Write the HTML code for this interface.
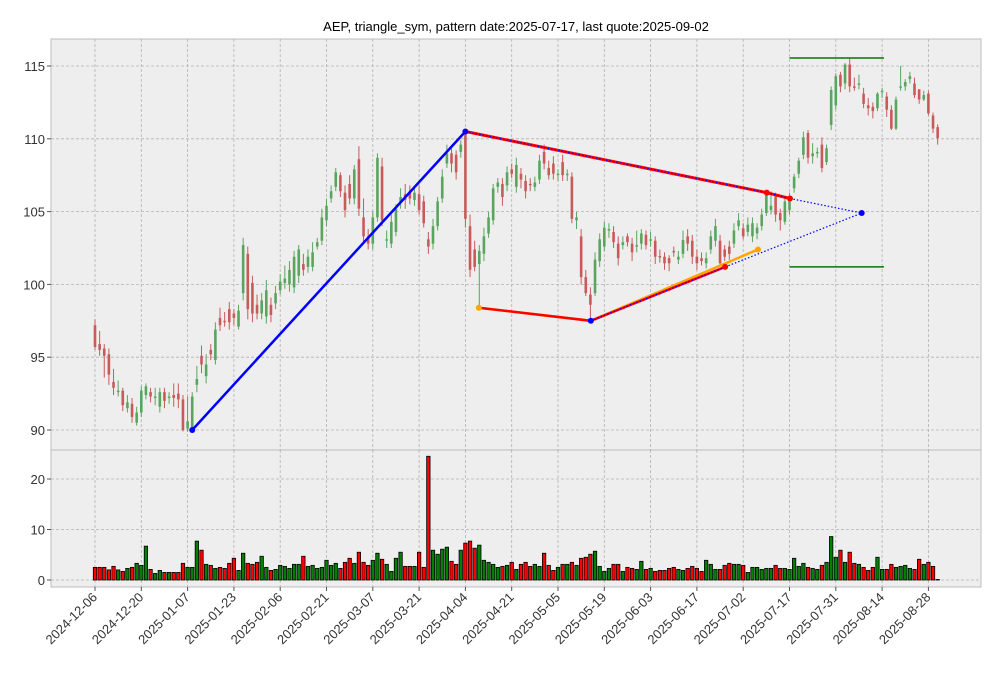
<!DOCTYPE html>
<html><head><meta charset="utf-8"><style>
body{margin:0;background:#fff}
svg text{font-family:"Liberation Sans","DejaVu Sans",sans-serif;fill:#333}
</style></head><body>
<svg id="c" width="1001" height="678" xmlns="http://www.w3.org/2000/svg">
<rect width="1001" height="678" fill="#fff"/>
<text x="516" y="31" text-anchor="middle" font-size="13" style="fill:#000">AEP, triangle_sym, pattern date:2025-07-17, last quote:2025-09-02</text>
<rect x="51" y="39" width="930" height="411" fill="#eeeeee" stroke="#bcbcbc"/>
<rect x="51" y="450" width="930" height="137" fill="#eeeeee" stroke="#bcbcbc"/>
<g id="grid"></g><g id="vol"></g><g id="cand"></g><g id="pat"></g><g id="axes"></g>
</svg>
<script>
const dateLabels=["2024-12-06","2024-12-20","2025-01-07","2025-01-23","2025-02-06","2025-02-21","2025-03-07","2025-03-21","2025-04-04","2025-04-21","2025-05-05","2025-05-19","2025-06-03","2025-06-17","2025-07-02","2025-07-17","2025-07-31","2025-08-14","2025-08-28"];
const tickIdx=[0,10,20,30,40,50,60,70,80,90,100,110,120,130,140,150,160,170,180];
const priceTicks=[90,95,100,105,110,115];
const volTicks=[0,10,20];
const openP=[97.2,95.9,95.6,95.2,93.3,92.6,92.7,91.5,91.8,90.5,91.2,92.4,92.6,92.2,91.6,92.6,92.2,92.4,92.5,92.1,90.1,90.2,93.1,95.1,93.7,95.5,94.8,97.7,97.5,98.3,98.0,97.1,99.4,102.1,100.1,98.6,98.0,97.8,98.6,98.7,99.6,100.1,100.0,99.8,100.6,101.4,101.2,101.2,102.6,103.0,104.4,105.9,106.7,107.5,106.3,106.9,105.9,108.6,104.6,103.3,102.8,104.6,108.1,103.0,102.8,103.6,105.6,106.2,106.4,105.8,106.2,105.7,103.1,102.8,104.0,105.9,108.3,109.0,108.9,109.1,110.4,104.0,102.4,101.4,102.1,103.5,104.4,106.7,106.9,106.8,107.9,106.7,107.6,107.1,106.9,106.7,107.2,109.1,108.0,108.3,107.5,108.4,107.5,107.4,104.4,103.3,100.5,99.3,99.4,101.6,102.6,103.7,103.6,102.8,102.7,103.3,102.8,102.6,102.8,103.4,103.0,103.0,101.95,101.9,101.8,102.3,101.7,102.1,103.3,103.0,101.9,101.8,101.45,102.4,103.0,103.0,102.4,102.6,102.8,104.0,103.85,103.6,103.3,103.5,104.0,104.9,105.1,106.05,104.9,104.3,105.1,106.6,107.6,108.9,110.4,108.8,109.0,109.6,108.4,110.95,112.3,114.4,113.8,115.1,113.6,113.7,113.1,112.3,112.2,112.1,113.2,112.9,112.0,110.7,113.5,113.6,114.1,113.8,113.4,112.7,113.1,111.6,110.8];
const closeP=[95.7,95.5,95.1,93.8,92.9,92.7,91.7,91.9,90.9,91.2,92.7,93.0,92.3,92.3,92.6,92.0,92.3,92.2,92.1,90.0,90.6,92.3,93.5,94.5,94.5,95.2,96.9,97.2,97.4,97.4,97.7,98.2,102.7,98.3,98.0,98.0,98.9,99.6,97.9,99.4,100.2,100.4,101.0,101.9,102.4,101.0,101.9,102.2,102.9,104.6,105.4,106.4,107.7,106.4,105.1,105.9,107.9,105.2,103.3,102.8,104.6,108.7,104.4,103.1,104.3,105.2,106.0,105.8,105.9,106.3,105.1,104.2,102.6,104.0,105.7,107.4,109.0,108.3,107.7,109.6,104.5,101.0,101.2,102.3,103.3,104.6,106.6,107.0,106.0,107.7,107.6,108.2,107.2,106.4,106.8,107.0,108.5,108.3,107.5,107.6,107.6,107.5,107.6,104.5,104.6,100.5,99.4,98.6,101.7,103.1,103.9,103.8,102.9,101.8,102.9,102.9,102.2,102.7,103.5,102.7,103.1,101.9,101.85,101.45,101.45,102.2,101.9,103.05,102.8,101.9,101.45,101.6,101.8,103.3,104.0,101.45,101.9,102.1,103.7,104.4,103.3,104.1,104.2,103.9,104.8,106.3,105.4,104.8,104.4,105.7,106.0,107.4,108.5,110.1,108.7,109.0,109.1,108.0,109.35,113.35,114.3,113.6,115.1,113.6,113.5,113.8,112.4,112.1,111.9,113.1,113.3,112.0,110.7,112.7,113.6,113.9,114.3,113.0,112.7,113.0,111.75,110.7,110.05];
const highP=[97.6,96.8,95.9,95.6,94.2,93.4,92.9,92.4,92.2,91.6,93.0,93.2,92.9,92.9,92.9,92.9,92.6,93.2,93.2,92.4,92.3,92.6,94.4,95.8,95.2,95.9,97.4,98.4,98.1,98.8,98.3,98.6,103.2,102.6,100.6,99.3,99.4,100.3,99.1,99.9,100.7,101.3,101.6,102.3,102.7,102.1,102.4,102.9,103.2,105.2,105.9,106.8,108.0,107.7,106.8,107.5,108.2,109.5,105.9,103.8,105.0,109.0,108.7,103.7,104.8,105.5,106.6,106.9,106.8,106.7,106.8,106.1,103.6,104.5,106.0,107.9,109.6,109.5,109.2,109.9,110.5,104.8,103.0,102.7,103.9,105.0,106.9,107.3,107.3,108.1,108.3,108.7,108.0,107.5,107.3,107.4,108.9,109.6,108.5,108.8,107.9,108.9,107.9,107.7,105.0,103.8,101.0,99.8,102.2,103.5,104.3,104.2,104.0,103.3,103.3,103.5,103.2,103.7,103.8,103.7,103.6,103.3,102.4,102.2,102.0,102.6,102.3,103.7,103.8,103.4,102.4,102.2,102.2,103.7,104.5,103.4,102.7,103.0,104.2,104.9,104.2,104.6,104.6,104.2,105.2,106.5,106.4,106.3,105.2,106.0,106.3,107.6,108.7,110.5,110.6,109.7,109.4,110.1,109.6,113.6,114.5,114.6,115.2,115.5,114.2,114.4,113.5,112.8,112.5,113.2,113.5,113.2,112.3,112.9,115.0,114.1,114.6,114.2,113.3,113.3,113.3,111.8,111.0];
const lowP=[95.5,95.1,93.6,93.1,92.4,92.3,91.3,91.2,90.5,90.3,90.9,92.1,91.9,91.7,91.2,91.5,91.8,91.6,91.5,89.9,89.9,90.0,92.6,93.9,93.2,94.8,94.5,96.8,97.1,96.9,97.2,96.9,98.9,97.6,97.4,97.6,97.6,97.3,97.4,98.3,99.3,99.7,99.5,99.4,100.1,100.6,100.8,100.9,102.4,102.7,104.0,105.6,106.4,106.0,104.6,105.5,105.5,104.7,102.9,102.4,102.4,104.3,104.0,102.5,102.5,103.3,105.2,105.2,105.5,105.4,104.8,103.9,102.1,102.4,103.7,105.6,108.0,107.7,107.2,108.7,103.9,100.5,100.9,98.4,101.6,103.2,104.1,106.3,105.4,106.4,107.3,106.3,106.6,105.9,106.4,106.4,106.9,107.9,107.2,107.2,107.1,107.1,107.1,104.2,103.8,100.0,99.2,97.5,99.2,101.2,102.3,103.2,102.5,101.3,102.4,102.6,101.6,102.2,102.4,102.4,102.6,101.4,101.5,101.0,100.9,101.9,101.4,101.8,102.3,101.4,101.0,101.3,101.1,102.1,102.6,101.2,101.6,101.7,102.5,103.7,103.1,103.3,102.9,103.1,103.7,104.7,104.8,104.3,103.7,104.1,104.8,106.3,107.3,108.6,108.3,108.3,108.7,107.7,108.2,110.6,112.0,113.2,113.4,113.2,113.3,113.4,112.1,111.6,111.4,111.9,112.8,111.5,110.6,110.6,113.3,113.3,113.8,112.8,112.4,112.6,111.6,110.4,109.6];
const volume=[2.5,2.5,2.5,2.0,2.7,2.0,1.7,2.3,2.5,3.3,2.9,6.7,2.1,1.3,1.9,1.5,1.5,1.5,1.5,3.3,2.5,2.5,7.7,5.9,3.1,2.9,2.3,2.5,2.3,3.3,4.3,1.9,5.3,3.3,3.1,3.5,4.7,2.5,1.9,2.1,2.9,2.7,2.3,3.1,3.1,4.7,2.7,2.9,2.3,2.5,3.9,2.9,3.3,2.3,3.5,4.3,3.3,5.5,3.5,2.9,3.9,5.3,4.1,3.1,1.7,4.3,5.5,2.7,2.7,2.7,5.5,2.5,24.5,5.9,5.1,6.1,6.5,3.7,3.1,5.9,7.3,7.7,6.3,6.9,3.9,3.5,3.1,2.5,2.7,2.9,3.5,2.1,3.1,3.5,2.7,3.1,2.7,5.3,2.9,1.9,2.5,3.1,3.1,3.5,2.9,4.3,4.5,5.1,5.7,2.7,1.7,2.3,3.1,3.1,1.7,2.5,2.3,2.1,3.7,2.1,2.3,1.7,1.9,1.9,2.3,2.5,2.1,1.9,2.3,2.7,2.3,1.7,3.9,3.1,2.1,2.1,2.9,3.3,3.1,3.1,2.9,1.5,2.5,2.5,2.1,2.3,2.3,2.9,2.3,2.3,2.1,4.3,2.7,3.3,2.5,2.3,2.1,2.9,3.5,8.6,4.5,5.9,3.5,5.5,3.3,3.1,2.5,1.9,2.5,4.5,2.1,2.1,3.1,2.5,2.7,2.9,2.3,2.1,4.1,3.1,3.5,2.7,0.1];
// pattern points [index, price]
const upLeg=[[21,90.0],[80,110.5]];
const upperLine=[[80,110.5],[145.1,106.3],[150.1,105.9]];
const upperExt=[[150.1,105.9],[165.6,104.9]];
const lowerOrange=[[82.9,98.4],[107.1,97.5],[143.2,102.4]];
const lowerRed=[[82.9,98.4],[107.1,97.5],[136.1,101.2]];
const lowerExt=[[136.1,101.2],[165.6,104.9]];
const targetLevels=[115.55,101.2];
const targetSpan=[150,170.4];

const NS="http://www.w3.org/2000/svg";
const X=i=>95+4.63*i;
const Y=p=>430-(p-90)*14.56;
const V=v=>580-v*5.05;
function mk(par,tag,at){const e=document.createElementNS(NS,tag);for(const k in at)e.setAttribute(k,at[k]);document.getElementById(par).appendChild(e);return e;}

tickIdx.forEach((t,k)=>{
  const x=X(t);
  let g=mk('grid','line',{x1:x,x2:x,y1:39,y2:450,stroke:'#b2b2b2','stroke-dasharray':'3,2','stroke-width':0.8});
  
  
  g=mk('grid','line',{x1:x,x2:x,y1:450,y2:587,stroke:'#b2b2b2','stroke-dasharray':'3,2','stroke-width':0.8});
  
  
  mk('axes','line',{x1:x,x2:x,y1:587,y2:591,stroke:'#555'});
  const tx=mk('axes','text',{x:x+3,y:598,'font-size':13,'text-anchor':'end',transform:`rotate(-45 ${x+3} 598)`});
  tx.textContent=dateLabels[k];
  
  
});
priceTicks.forEach(p=>{
  const y=Y(p);
  const g=mk('grid','line',{x1:51,x2:981,y1:y,y2:y,stroke:'#b2b2b2','stroke-dasharray':'3,2','stroke-width':0.8});
  
  
  mk('axes','line',{x1:47,x2:51,y1:y,y2:y,stroke:'#555'});
  const t=mk('axes','text',{x:45,y:y+5,'font-size':13,'text-anchor':'end'});
  t.textContent=p;
  
  
});
volTicks.forEach(v=>{
  const y=V(v);
  const g=mk('grid','line',{x1:51,x2:981,y1:y,y2:y,stroke:'#b2b2b2','stroke-dasharray':'3,2','stroke-width':0.8});
  
  
  mk('axes','line',{x1:47,x2:51,y1:y,y2:y,stroke:'#555'});
  const t=mk('axes','text',{x:45,y:y+5,'font-size':13,'text-anchor':'end'});
  t.textContent=v;
  
  
});
closeP.forEach((c,i)=>{
  const o=openP[i],up=c>=o,col=up?'#5aa55e':'#c85a5a',x=X(i);
  const w=mk('cand','line',{x1:x,x2:x,y1:Y(highP[i]),y2:Y(lowP[i]),stroke:col,'stroke-width':1});
  
  
  const top=Y(Math.max(o,c)),h=Math.max(1,Math.abs(Y(o)-Y(c)));
  const b=mk('cand','rect',{x:x-1.3,y:top,width:2.6,height:h,fill:col});
  
  
  const vy=V(volume[i]);
  const vb=mk('vol','rect',{x:x-1.7,y:vy,width:3.4,height:Math.max(0.3,580-vy),fill:up?'#008000':'#ff0000',stroke:'#000','stroke-width':0.8});
  
  
});
function pts(a){return a.map(p=>X(p[0])+','+Y(p[1])).join(' ');}
function line(a,col,w,dash,name){const e=mk('pat','polyline',{points:pts(a),fill:'none',stroke:col,'stroke-width':w});if(dash)e.setAttribute('stroke-dasharray',dash);return e;}
function dots(a,col,name){a.forEach(p=>{const d=mk('pat','circle',{cx:X(p[0]),cy:Y(p[1]),r:3,fill:col});});}
targetLevels.forEach(lv=>{
  const e=mk('pat','line',{x1:X(targetSpan[0]),x2:X(targetSpan[1]),y1:Y(lv),y2:Y(lv),stroke:'#007700','stroke-width':1.5});
  
  
});
line(upLeg,'#0000ff',2.5,null,'pattern-up-leg');
line(lowerOrange,'#ffa500',2.5,null,'lower-boundary-orange');
line(lowerRed,'#ff0000',2.5,null,'lower-boundary-red');
line(upperLine,'#ff0000',3,null,'upper-boundary');
line(upperLine,'#0000ff',1.2,'1.5,2','upper-boundary-overlay');
line([lowerRed[1],lowerRed[2]],'#0000ff',1.2,'1.5,2','lower-boundary-overlay');
line(upperExt,'#0000ff',1.2,'1.5,2','upper-extension');
line(lowerExt,'#0000ff',1.2,'1.5,2','lower-extension');
dots([lowerOrange[0],lowerOrange[2]],'#ffa500','orange-pivot');
dots([upperLine[1],upperLine[2],lowerRed[2]],'#ff0000','red-pivot');
dots([upLeg[0],upLeg[1],lowerRed[1],upperExt[1]],'#0000ff','blue-pivot');
</script>
</body></html>
